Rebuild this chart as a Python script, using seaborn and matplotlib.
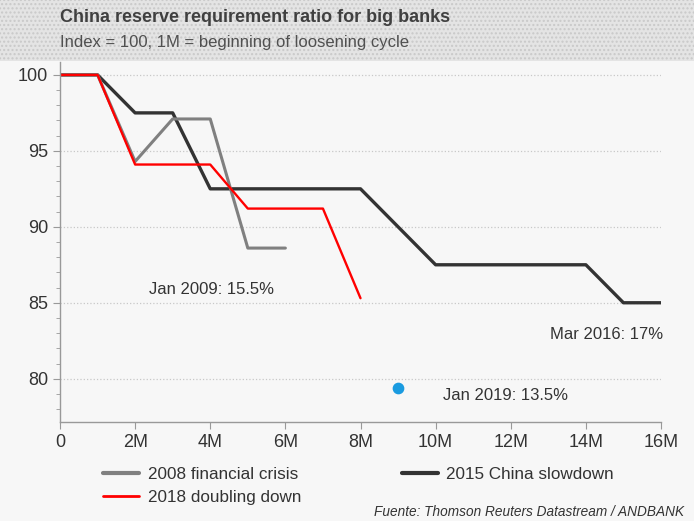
import numpy as np
import pandas as pd
import matplotlib.pyplot as plt
import matplotlib.patches as mpatches
from matplotlib.ticker import MultipleLocator
import seaborn as sns

# ---- datos ----
months_2008 = [0, 1, 2, 3, 4, 5, 6]
idx_2008 = [100, 100, 94.3, 97.1, 97.1, 88.6, 88.6]

months_2018 = [0, 1, 2, 3, 4, 5, 6, 7, 8]
idx_2018 = [100, 100, 94.1, 94.1, 94.1, 91.2, 91.2, 91.2, 85.3]

months_2015 = [0, 1, 2, 3, 4, 5, 6, 7, 8, 9, 10, 11, 12, 13, 14, 15, 16]
idx_2015 = [100, 100, 97.5, 97.5, 92.5, 92.5, 92.5, 92.5, 92.5, 90.0,
            87.5, 87.5, 87.5, 87.5, 87.5, 85.0, 85.0]

dot_month = [9]
dot_value = [79.4]

xticks = [0, 2, 4, 6, 8, 10, 12, 14, 16]
xtick_labels = ["0", "2M", "4M", "6M", "8M", "10M", "12M", "14M", "16M"]
yticks = [80, 85, 90, 95, 100]

sns.set_style("white")
plt.rcParams["font.family"] = ["Liberation Sans", "DejaVu Sans"]

df = pd.concat([
    pd.DataFrame({"m": months_2008, "v": idx_2008, "serie": "2008 financial crisis"}),
    pd.DataFrame({"m": months_2018, "v": idx_2018, "serie": "2018 doubling down"}),
    pd.DataFrame({"m": months_2015, "v": idx_2015, "serie": "2015 China slowdown"}),
])
colores = {"2008 financial crisis": "#808080",
           "2018 doubling down": "#ff0000",
           "2015 China slowdown": "#333333"}
anchos = {"2008 financial crisis": 2.2,
          "2018 doubling down": 1.7,
          "2015 China slowdown": 2.4}

fig = plt.figure(figsize=(6.94, 5.21), dpi=100)
fig.patch.set_facecolor("#f7f7f7")

# cabecera gris punteada
header = mpatches.Rectangle((0, 1 - 61 / 521), 1, 61 / 521, transform=fig.transFigure,
                            facecolor="#e4e4e4", edgecolor="#c9c9c9", hatch="....",
                            linewidth=0, zorder=0)
fig.patches.append(header)
fig.text(60 / 694, 1 - 18 / 521, "China reserve requirement ratio for big banks",
         fontsize=13, fontweight="bold", color="#404040", va="center")
fig.text(60 / 694, 1 - 43 / 521, "Index = 100, 1M = beginning of loosening cycle",
         fontsize=12, color="#505050", va="center")

ax = fig.add_axes([60 / 694, 1 - 422 / 521, 601 / 694, 360 / 521])
ax.set_facecolor("#f7f7f7")

for serie in ["2015 China slowdown", "2008 financial crisis", "2018 doubling down"]:
    d = df[df["serie"] == serie]
    sns.lineplot(data=d, x="m", y="v", ax=ax, color=colores[serie],
                 linewidth=anchos[serie], label=serie, legend=False)

ax.scatter(dot_month, dot_value, s=55, color="#1a9be0", zorder=5)

ax.text(4.02, 85.86, "Jan 2009: 15.5%", fontsize=12, color="#333333",
        ha="center", va="center")
ax.text(14.54, 82.9, "Mar 2016: 17%", fontsize=12, color="#333333",
        ha="center", va="center")
ax.text(11.85, 78.9, "Jan 2019: 13.5%", fontsize=12, color="#333333",
        ha="center", va="center")

ax.set_xlim(0, 16)
ax.set_ylim(77.15, 100.85)
ax.set_xticks(xticks)
ax.set_xticklabels(xtick_labels)
ax.set_yticks(yticks)
ax.yaxis.set_minor_locator(MultipleLocator(1))
ax.set_xlabel("")
ax.set_ylabel("")
ax.tick_params(axis="both", labelsize=13, colors="#333333")
ax.tick_params(axis="y", which="major", length=5, color="#999999", left=True)
ax.tick_params(axis="y", which="minor", length=3, color="#999999", left=True)
ax.tick_params(axis="x", which="major", length=5, color="#999999", bottom=True)
ax.grid(axis="y", linestyle=":", color="#c8c8c8", linewidth=0.9)

for s in ["top", "right"]:
    ax.spines[s].set_visible(False)
for s in ["left", "bottom"]:
    ax.spines[s].set_color("#999999")
    ax.spines[s].set_linewidth(1.0)

# leyenda en dos columnas
handles = [plt.Line2D([], [], color=colores["2008 financial crisis"], lw=3),
           plt.Line2D([], [], color=colores["2018 doubling down"], lw=2),
           plt.Line2D([], [], color=colores["2015 China slowdown"], lw=3)]
labels = ["2008 financial crisis", "2018 doubling down", "2015 China slowdown"]
fig.legend(handles, labels, ncol=2, loc="upper left",
           bbox_to_anchor=(88 / 694, 1 - 452 / 521), frameon=False,
           fontsize=12.3, handlelength=2.1, columnspacing=5.9,
           labelspacing=0.45, handletextpad=0.5,
           labelcolor="#333333")

fig.text(684 / 694, 1 - 512 / 521, "Fuente: Thomson Reuters Datastream / ANDBANK",
         fontsize=9.8, style="italic", color="#333333", ha="right", va="center")

fig.savefig("out.png", dpi=100, facecolor=fig.get_facecolor())
